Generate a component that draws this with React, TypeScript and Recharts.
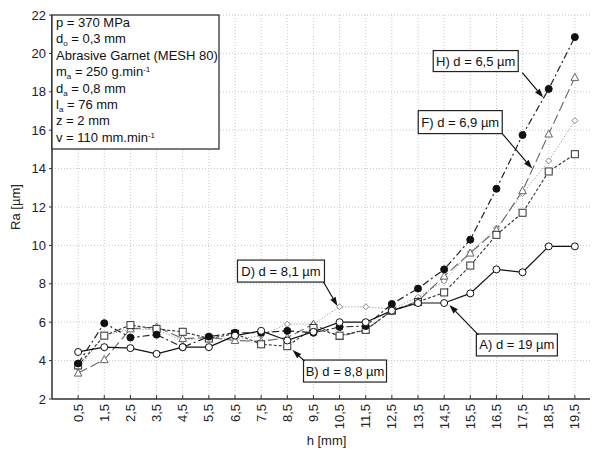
import React from "react"
import { LineChart, Line, XAxis, YAxis, CartesianGrid, ReferenceDot } from "recharts"

const hValues = [0.5, 1.5, 2.5, 3.5, 4.5, 5.5, 6.5, 7.5, 8.5, 9.5, 10.5, 11.5, 12.5, 13.5, 14.5, 15.5, 16.5, 17.5, 18.5, 19.5]
const raTicks = [2, 4, 6, 8, 10, 12, 14, 16, 18, 20, 22]

// A) d = 19 µm  (open circles, solid)
const seriesA = [4.45, 4.7, 4.65, 4.35, 4.7, 4.7, 5.3, 5.55, 5.05, 5.5, 6.0, 6.0, 6.6, 7.0, 7.0, 7.5, 8.75, 8.6, 9.95, 9.95]
// B) d = 8,8 µm (squares, short dash)
const seriesB = [3.75, 5.3, 5.85, 5.65, 5.5, 5.15, 5.4, 4.85, 4.75, 5.7, 5.3, 5.6, 6.6, 7.05, 7.55, 8.95, 10.55, 11.7, 13.85, 14.75]
// D) d = 8,1 µm (diamonds, dotted)
const seriesD = [3.6, 5.3, 5.65, 5.6, 5.05, 5.2, 5.1, 5.3, 5.9, 5.9, 6.8, 6.8, 6.7, 7.3, 8.15, 9.65, 10.9, 12.7, 14.4, 16.5]
// F) d = 6,9 µm (triangles, long dash)
const seriesF = [3.35, 4.05, 5.65, 5.75, 5.15, 5.2, 5.05, 5.0, 5.2, 5.9, 5.25, 5.6, 6.6, 7.1, 8.4, 9.6, 10.8, 12.85, 15.8, 18.75]
// H) d = 6,5 µm (filled circles, dash-dot)
const seriesH = [3.85, 5.95, 5.2, 5.35, 4.7, 5.25, 5.45, 5.45, 5.55, 5.45, 5.75, 5.8, 6.95, 7.75, 8.75, 10.3, 12.95, 15.75, 18.15, 20.85]

const data = hValues.map((h, i) => ({
  h,
  A: seriesA[i],
  B: seriesB[i],
  D: seriesD[i],
  F: seriesF[i],
  H: seriesH[i],
}))

const FONT = "'Liberation Sans', Arial, sans-serif"
const fmt = (v: number) => String(v).replace(".", ",")

function XTick({ x, y, payload }: any) {
  return (
    <g transform={`translate(${x},${y})`}>
      <line x1={0} y1={0} x2={0} y2={-4} stroke="#333" />
      <text transform="rotate(-90)" x={-5} y={0} dy="0.35em" textAnchor="end" fontSize={13} fontFamily={FONT} fill="#222">
        {fmt(payload.value)}
      </text>
    </g>
  )
}

function TopTick({ x, y }: any) {
  return <line x1={x} y1={y} x2={x} y2={y + 4} stroke="#333" />
}

const openCircle = (p: any) =>
  p.cx == null ? null : <circle key={p.index} cx={p.cx} cy={p.cy} r={3.5} fill="#fff" stroke="#111" strokeWidth={1} />
const filledCircle = (p: any) =>
  p.cx == null ? null : <circle key={p.index} cx={p.cx} cy={p.cy} r={3.5} fill="#111" stroke="#111" />
const square = (p: any) =>
  p.cx == null ? null : <rect key={p.index} x={p.cx - 3.5} y={p.cy - 3.5} width={7} height={7} fill="#fff" stroke="#333" />
const triangle = (p: any) =>
  p.cx == null ? null : (
    <polygon key={p.index} points={`${p.cx},${p.cy - 4} ${p.cx - 3.8},${p.cy + 3} ${p.cx + 3.8},${p.cy + 3}`} fill="#fff" stroke="#666" />
  )
const diamond = (p: any) =>
  p.cx == null ? null : (
    <polygon key={p.index} points={`${p.cx},${p.cy - 3} ${p.cx + 3},${p.cy} ${p.cx},${p.cy + 3} ${p.cx - 3},${p.cy}`} fill="#fff" stroke="#888" />
  )

function Arrow({ x1, y1, x2, y2 }: { x1: number; y1: number; x2: number; y2: number }) {
  const a = Math.atan2(y2 - y1, x2 - x1)
  const len = 9
  const w = 3
  const bx = x2 - len * Math.cos(a)
  const by = y2 - len * Math.sin(a)
  const px = -Math.sin(a) * w
  const py = Math.cos(a) * w
  return (
    <g>
      <line x1={x1} y1={y1} x2={bx} y2={by} stroke="#111" strokeWidth={1.2} />
      <polygon points={`${x2},${y2} ${bx + px},${by + py} ${bx - px},${by - py}`} fill="#111" />
    </g>
  )
}

function Callout({ cx, cy, text, bx, by, bw, bh, sx, sy }: any) {
  return (
    <g>
      <rect x={cx + bx} y={cy + by} width={bw} height={bh} fill="#fff" stroke="#222" strokeWidth={1.2} />
      <text x={cx + bx + bw / 2} y={cy + by + bh / 2} dy="0.35em" textAnchor="middle" fontSize={13} fontFamily={FONT} fill="#111">
        {text}
      </text>
      <Arrow x1={cx + sx} y1={cy + sy} x2={cx} y2={cy} />
    </g>
  )
}

function InfoBox({ cx, cy }: any) {
  const x0 = cx
  const y0 = cy
  const tx = x0 + 4
  const fs = 13
  const lines: React.ReactNode[] = [
    <>p = 370 MPa</>,
    <>d<tspan fontSize={8} dy={3}>o</tspan><tspan dy={-3}> = 0,3 mm</tspan></>,
    <>Abrasive Garnet (MESH 80)</>,
    <>m<tspan fontSize={8} dy={3}>a</tspan><tspan dy={-3}> = 250 g.min</tspan><tspan fontSize={8} dy={-4}>-1</tspan></>,
    <>d<tspan fontSize={8} dy={3}>a</tspan><tspan dy={-3}> = 0,8 mm</tspan></>,
    <>l<tspan fontSize={8} dy={3}>a</tspan><tspan dy={-3}> = 76 mm</tspan></>,
    <>z = 2 mm</>,
    <>v = 110 mm.min<tspan fontSize={8} dy={-4}>-1</tspan></>,
  ]
  return (
    <g>
      <rect x={x0} y={y0} width={167} height={134} fill="#fff" stroke="#222" strokeWidth={1.2} />
      {lines.map((l, i) => (
        <text key={i} x={tx} y={y0 + 12 + i * 16.4} fontSize={fs} fontFamily={FONT} fill="#111">
          {l}
        </text>
      ))}
    </g>
  )
}

const YLabel = ({ viewBox }: any) => (
  <text
    x={7}
    y={viewBox.y + viewBox.height / 2}
    transform={`rotate(-90, 7, ${viewBox.y + viewBox.height / 2})`}
    textAnchor="middle"
    dominantBaseline="central"
    fontSize={13}
    fontFamily={FONT}
    fill="#222"
  >
    Ra [µm]
  </text>
)

export default function App() {
  return (
    <div style={{ width: 590, height: 443, overflow: "hidden", background: "#fff" }}>
      <LineChart width={593} height={443} data={data} margin={{ top: 7, right: 0, bottom: 0, left: 0 }}>
        <CartesianGrid stroke="#c8c8c8" strokeDasharray="1 2" />
        <XAxis
          dataKey="h"
          type="number"
          domain={[-0.5, 20.5]}
          ticks={hValues}
          interval={0}
          height={52}
          tickSize={0}
          tickMargin={0}
          tickLine={false}
          tick={<XTick />}
          axisLine={{ stroke: "#333", strokeWidth: 1.5 }}
          label={{ value: "h [mm]", position: "insideBottom", offset: 6, fontSize: 13, fontFamily: FONT, fill: "#222" }}
        />
        <XAxis
          xAxisId="top"
          orientation="top"
          dataKey="h"
          type="number"
          domain={[-0.5, 20.5]}
          ticks={hValues}
          interval={0}
          height={0}
          tickSize={0}
          tickMargin={0}
          tickLine={false}
          tick={<TopTick />}
          axisLine={{ stroke: "#333", strokeWidth: 1.5 }}
        />
        <YAxis
          type="number"
          domain={[2, 22]}
          ticks={raTicks}
          interval={0}
          width={44}
          tickSize={3}
          tickMargin={3}
          tickLine={{ stroke: "#333" }}
          axisLine={{ stroke: "#333", strokeWidth: 1.5 }}
          tick={{ fontSize: 13, fontFamily: FONT, fill: "#222" }}
          label={<YLabel />}
        />
        <Line dataKey="D" type="linear" stroke="#888" strokeWidth={1} strokeDasharray="1 2" dot={diamond} isAnimationActive={false} />
        <Line dataKey="F" type="linear" stroke="#666" strokeWidth={1.1} strokeDasharray="10 4" dot={triangle} isAnimationActive={false} />
        <Line dataKey="B" type="linear" stroke="#333" strokeWidth={1.1} strokeDasharray="3 2" dot={square} isAnimationActive={false} />
        <Line dataKey="H" type="linear" stroke="#222" strokeWidth={1.2} strokeDasharray="7 3 2 3" dot={filledCircle} isAnimationActive={false} />
        <Line dataKey="A" type="linear" stroke="#111" strokeWidth={1.2} dot={openCircle} isAnimationActive={false} />

        <ReferenceDot x={-0.5} y={22} r={0} shape={(p: any) => <InfoBox cx={p.cx} cy={p.cy} />} />
        <ReferenceDot x={18.29} y={17.7} r={0} shape={(p: any) => <Callout cx={p.cx} cy={p.cy} text="H) d = 6,5 µm" bx={-110} by={-47} bw={85} bh={21} sx={-21} sy={-25} />} />
        <ReferenceDot x={17.87} y={14.0} r={0} shape={(p: any) => <Callout cx={p.cx} cy={p.cy} text="F) d = 6,9 µm" bx={-114} by={-58} bw={84} bh={23} sx={-30} sy={-35} />} />
        <ReferenceDot x={10.42} y={6.84} r={0} shape={(p: any) => <Callout cx={p.cx} cy={p.cy} text="D) d = 8,1 µm" bx={-100} by={-46} bw={87} bh={22} sx={-14} sy={-24} />} />
        <ReferenceDot x={8.7} y={4.55} r={0} shape={(p: any) => <Callout cx={p.cx} cy={p.cy} text="B) d = 8,8 µm" bx={11} by={10} bw={83} bh={22} sx={12} sy={11} />} />
        <ReferenceDot x={14.7} y={6.9} r={0} shape={(p: any) => <Callout cx={p.cx} cy={p.cy} text="A) d = 19 µm" bx={27} by={29} bw={81} bh={22} sx={29} sy={30} />} />
      </LineChart>
    </div>
  )
}
